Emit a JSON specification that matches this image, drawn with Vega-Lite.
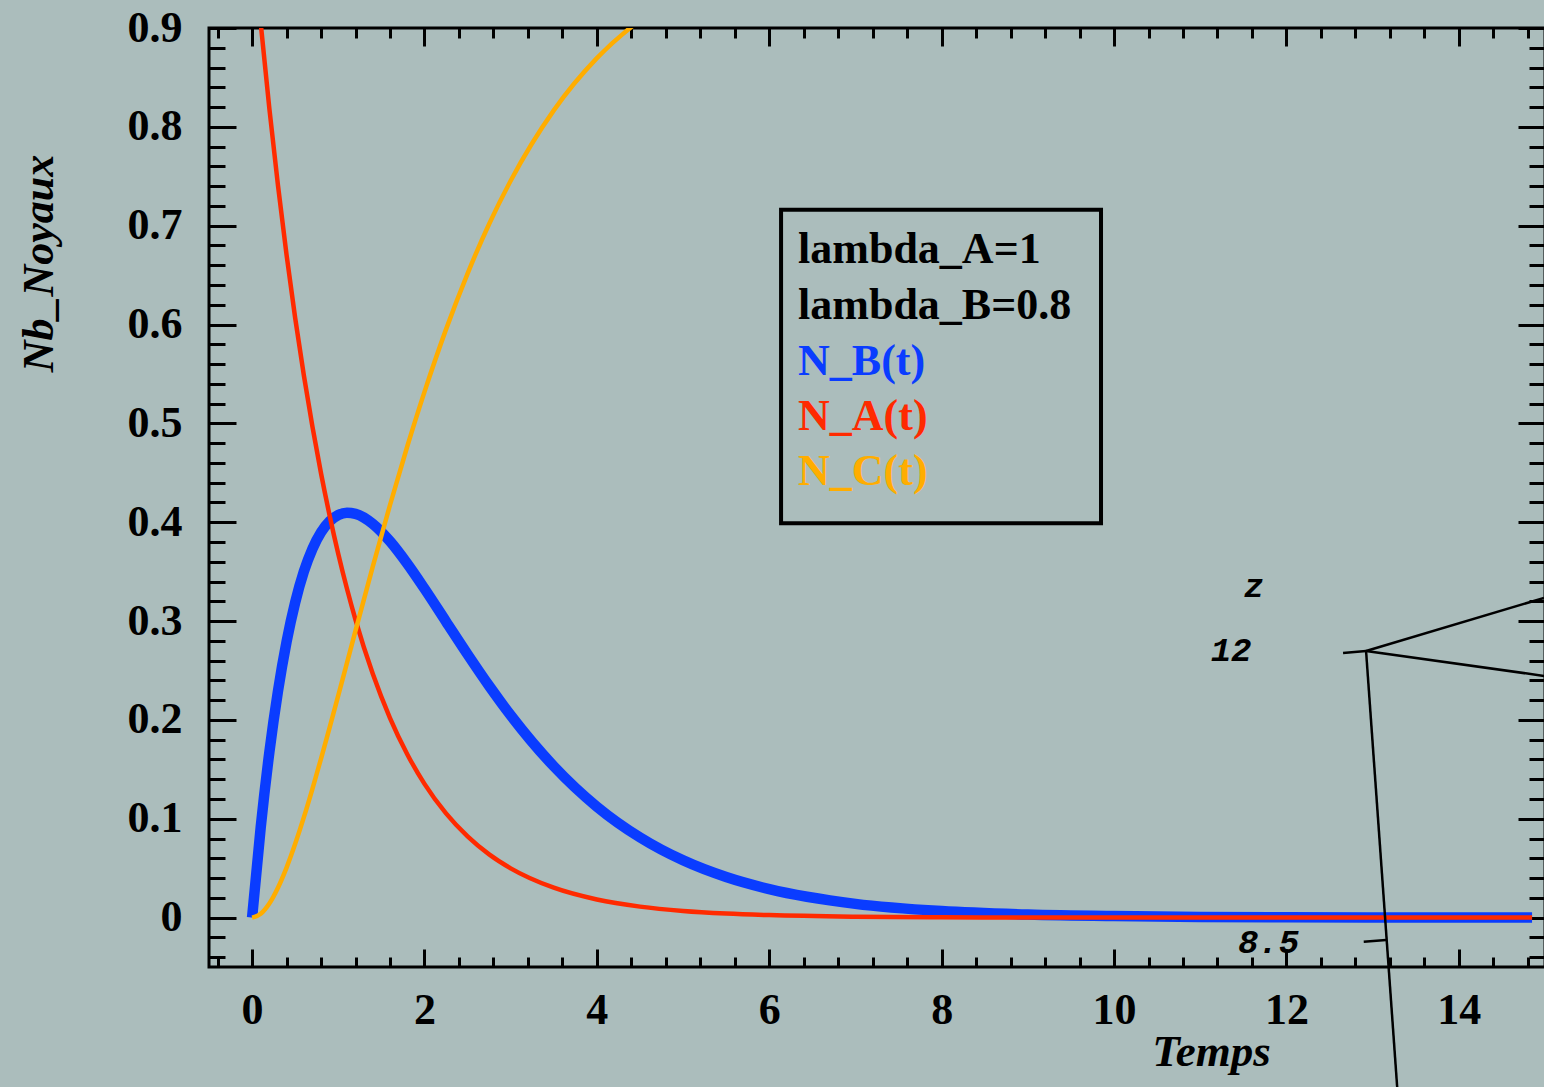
{
  "$schema": "https://vega.github.io/schema/vega-lite/v6.json",
  "width": 1336,
  "height": 939,
  "autosize": {"type": "none"},
  "padding": {"left": 209, "top": 28, "right": 10, "bottom": 120},
  "background": "#abbdbc",
  "config": {
    "view": {"stroke": "black", "strokeWidth": 3, "fill": null},
    "axis": {"grid": false, "domain": false, "tickColor": "black", "tickWidth": 3, "labelColor": "black", "titleColor": "black", "labelFont": "Liberation Serif", "titleFont": "Liberation Serif"}
  },
  "datasets": {
    "curves": [
      {"series": "B", "t": 0, "n": 0}, {"series": "B", "t": 0.1, "n": 0.0914}, {"series": "B", "t": 0.2, "n": 0.1671}, {"series": "B", "t": 0.3, "n": 0.229}, {"series": "B", "t": 0.4, "n": 0.2791}, {"series": "B", "t": 0.5, "n": 0.3189}, {"series": "B", "t": 0.6, "n": 0.3499}, {"series": "B", "t": 0.7, "n": 0.3731}, {"series": "B", "t": 0.8, "n": 0.3898}, {"series": "B", "t": 0.9, "n": 0.4009}, {"series": "B", "t": 1.0, "n": 0.4073}, {"series": "B", "t": 1.1, "n": 0.4096}, {"series": "B", "t": 1.2, "n": 0.4085}, {"series": "B", "t": 1.4, "n": 0.3984}, {"series": "B", "t": 1.6, "n": 0.3807}, {"series": "B", "t": 1.8, "n": 0.3581}, {"series": "B", "t": 2.0, "n": 0.3328}, {"series": "B", "t": 2.25, "n": 0.2995}, {"series": "B", "t": 2.5, "n": 0.2663}, {"series": "B", "t": 2.75, "n": 0.2344}, {"series": "B", "t": 3.0, "n": 0.2047}, {"series": "B", "t": 3.5, "n": 0.1531}, {"series": "B", "t": 4.0, "n": 0.1122}, {"series": "B", "t": 4.5, "n": 0.0811}, {"series": "B", "t": 5.0, "n": 0.0579}, {"series": "B", "t": 5.5, "n": 0.041}, {"series": "B", "t": 6.0, "n": 0.0288}, {"series": "B", "t": 7.0, "n": 0.0139}, {"series": "B", "t": 8.0, "n": 0.0066}, {"series": "B", "t": 9.0, "n": 0.0031}, {"series": "B", "t": 10.0, "n": 0.0015}, {"series": "B", "t": 11.0, "n": 0.0007}, {"series": "B", "t": 12.0, "n": 0.0003}, {"series": "B", "t": 13.0, "n": 0.0001}, {"series": "B", "t": 14.0, "n": 0.0001}, {"series": "B", "t": 14.85, "n": 0},
      {"series": "A", "t": 0, "n": 1}, {"series": "A", "t": 0.1, "n": 0.9048}, {"series": "A", "t": 0.2, "n": 0.8187}, {"series": "A", "t": 0.3, "n": 0.7408}, {"series": "A", "t": 0.4, "n": 0.6703}, {"series": "A", "t": 0.5, "n": 0.6065}, {"series": "A", "t": 0.6, "n": 0.5488}, {"series": "A", "t": 0.7, "n": 0.4966}, {"series": "A", "t": 0.8, "n": 0.4493}, {"series": "A", "t": 0.9, "n": 0.4066}, {"series": "A", "t": 1.0, "n": 0.3679}, {"series": "A", "t": 1.1, "n": 0.3329}, {"series": "A", "t": 1.2, "n": 0.3012}, {"series": "A", "t": 1.4, "n": 0.2466}, {"series": "A", "t": 1.6, "n": 0.2019}, {"series": "A", "t": 1.8, "n": 0.1653}, {"series": "A", "t": 2.0, "n": 0.1353}, {"series": "A", "t": 2.25, "n": 0.1054}, {"series": "A", "t": 2.5, "n": 0.0821}, {"series": "A", "t": 2.75, "n": 0.0639}, {"series": "A", "t": 3.0, "n": 0.0498}, {"series": "A", "t": 3.5, "n": 0.0302}, {"series": "A", "t": 4.0, "n": 0.0183}, {"series": "A", "t": 4.5, "n": 0.0111}, {"series": "A", "t": 5.0, "n": 0.0067}, {"series": "A", "t": 5.5, "n": 0.0041}, {"series": "A", "t": 6.0, "n": 0.0025}, {"series": "A", "t": 7.0, "n": 0.0009}, {"series": "A", "t": 8.0, "n": 0.0003}, {"series": "A", "t": 9.0, "n": 0.0001}, {"series": "A", "t": 10.0, "n": 0}, {"series": "A", "t": 12.0, "n": 0}, {"series": "A", "t": 14.85, "n": 0},
      {"series": "C", "t": 0, "n": 0}, {"series": "C", "t": 0.1, "n": 0.0038}, {"series": "C", "t": 0.2, "n": 0.0142}, {"series": "C", "t": 0.3, "n": 0.0302}, {"series": "C", "t": 0.4, "n": 0.0506}, {"series": "C", "t": 0.5, "n": 0.0746}, {"series": "C", "t": 0.6, "n": 0.1013}, {"series": "C", "t": 0.7, "n": 0.1303}, {"series": "C", "t": 0.8, "n": 0.1609}, {"series": "C", "t": 0.9, "n": 0.1925}, {"series": "C", "t": 1.0, "n": 0.2248}, {"series": "C", "t": 1.1, "n": 0.2575}, {"series": "C", "t": 1.2, "n": 0.2903}, {"series": "C", "t": 1.4, "n": 0.355}, {"series": "C", "t": 1.6, "n": 0.4174}, {"series": "C", "t": 1.8, "n": 0.4766}, {"series": "C", "t": 2.0, "n": 0.5319}, {"series": "C", "t": 2.25, "n": 0.5951}, {"series": "C", "t": 2.5, "n": 0.6516}, {"series": "C", "t": 2.75, "n": 0.7017}, {"series": "C", "t": 3.0, "n": 0.7455}, {"series": "C", "t": 3.5, "n": 0.8167}, {"series": "C", "t": 4.0, "n": 0.8695}, {"series": "C", "t": 4.5, "n": 0.9078}, {"series": "C", "t": 5.0, "n": 0.9353}
    ],
    "segs": [
      {"x1": 12.657, "y1": 0.2677, "x2": 12.924, "y2": 0.2697},
      {"x1": 12.924, "y1": 0.2697, "x2": 14.989, "y2": 0.3234},
      {"x1": 12.924, "y1": 0.2697, "x2": 14.989, "y2": 0.2445},
      {"x1": 12.924, "y1": 0.2697, "x2": 13.285, "y2": -0.1714},
      {"x1": 12.897, "y1": -0.0244, "x2": 13.156, "y2": -0.0227}
    ],
    "legend": [
      {"label": "lambda_A=1", "t": 6.334, "n": 0.6623},
      {"label": "lambda_B=0.8", "t": 6.334, "n": 0.6056},
      {"label": "N_B(t)", "t": 6.334, "n": 0.5489},
      {"label": "N_A(t)", "t": 6.334, "n": 0.4933},
      {"label": "N_C(t)", "t": 6.334, "n": 0.4376}
    ],
    "notes": [
      {"label": "z", "t": 11.624, "n": 0.3244},
      {"label": "12", "t": 11.358, "n": 0.2596},
      {"label": "8.5", "t": 11.793, "n": -0.0358}
    ]
  },
  "resolve": {"scale": {"x": "shared", "y": "shared"}, "axis": {"x": "independent", "y": "independent"}},
  "layer": [
    {
      "data": {"name": "curves"},
      "transform": [{"filter": "datum.series === 'B'"}],
      "mark": {"type": "line", "color": "#0a3cff", "strokeWidth": 10.5, "clip": true, "interpolate": "monotone"},
      "encoding": {
        "x": {"field": "t", "type": "quantitative", "scale": {"domain": [-0.5, 15], "nice": false, "zero": false},
          "axis": {"orient": "bottom", "values": [0, 2, 4, 6, 8, 10, 12, 14], "tickSize": -18, "labelPadding": 39, "labelFontSize": 44, "labelFontWeight": "bold", "labelFlush": false, "labelOverlap": false,
            "title": "Temps", "titleFontSize": 45, "titleFontWeight": "bold", "titleFontStyle": "italic", "titleX": 1002, "titleY": 98, "titleAlign": "center", "titleBaseline": "alphabetic"}},
        "y": {"field": "n", "type": "quantitative", "scale": {"domain": [-0.05, 0.9], "nice": false, "zero": false},
          "axis": {"orient": "left", "values": [0, 0.1, 0.2, 0.3, 0.4, 0.5, 0.6, 0.7, 0.8, 0.9], "tickSize": -27, "labelPadding": 54, "labelFontSize": 44, "labelFontWeight": "bold", "labelFlush": false, "labelOverlap": false,
            "labelExpr": "datum.value === 0 ? '0' : format(datum.value, '.1f')",
            "title": "Nb_Noyaux", "titleFontSize": 44, "titleFontWeight": "bold", "titleFontStyle": "italic", "titleX": -157, "titleY": 235, "titleAlign": "center", "titleBaseline": "alphabetic", "titleAngle": -90}}
      }
    },
    {
      "data": {"name": "curves"},
      "transform": [{"filter": "datum.series === 'A'"}],
      "mark": {"type": "line", "color": "#ff2a00", "strokeWidth": 4.5, "clip": true, "interpolate": "monotone"},
      "encoding": {
        "x": {"field": "t", "type": "quantitative", "scale": {"domain": [-0.5, 15], "nice": false, "zero": false},
          "axis": {"orient": "bottom", "values": [-0.4, 0.4, 0.8, 1.2, 1.6, 2.4, 2.8, 3.2, 3.6, 4.4, 4.8, 5.2, 5.6, 6.4, 6.8, 7.2, 7.6, 8.4, 8.8, 9.2, 9.6, 10.4, 10.8, 11.2, 11.6, 12.4, 12.8, 13.2, 13.6, 14.4, 14.8], "tickSize": -10, "labels": false, "title": null}},
        "y": {"field": "n", "type": "quantitative", "scale": {"domain": [-0.05, 0.9], "nice": false, "zero": false},
          "axis": {"orient": "left", "values": [-0.04, -0.02, 0.02, 0.04, 0.06, 0.08, 0.12, 0.14, 0.16, 0.18, 0.22, 0.24, 0.26, 0.28, 0.32, 0.34, 0.36, 0.38, 0.42, 0.44, 0.46, 0.48, 0.52, 0.54, 0.56, 0.58, 0.62, 0.64, 0.66, 0.68, 0.72, 0.74, 0.76, 0.78, 0.82, 0.84, 0.86, 0.88], "tickSize": -16, "labels": false, "title": null}}
      }
    },
    {
      "data": {"name": "curves"},
      "transform": [{"filter": "datum.series === 'C'"}],
      "mark": {"type": "line", "color": "#ffad00", "strokeWidth": 4.5, "clip": true, "interpolate": "monotone"},
      "encoding": {
        "x": {"field": "t", "type": "quantitative", "scale": {"domain": [-0.5, 15], "nice": false, "zero": false},
          "axis": {"orient": "top", "values": [0, 2, 4, 6, 8, 10, 12, 14], "tickSize": -18, "labels": false, "title": null}},
        "y": {"field": "n", "type": "quantitative", "scale": {"domain": [-0.05, 0.9], "nice": false, "zero": false},
          "axis": {"orient": "right", "values": [0, 0.1, 0.2, 0.3, 0.4, 0.5, 0.6, 0.7, 0.8, 0.9], "tickSize": -27, "labels": false, "title": null}}
      }
    },
    {
      "data": {"name": "segs"},
      "mark": {"type": "rule", "color": "black", "strokeWidth": 2.5, "clip": false},
      "encoding": {
        "x": {"field": "x1", "type": "quantitative", "scale": {"domain": [-0.5, 15], "nice": false, "zero": false},
          "axis": {"orient": "top", "values": [-0.4, 0.4, 0.8, 1.2, 1.6, 2.4, 2.8, 3.2, 3.6, 4.4, 4.8, 5.2, 5.6, 6.4, 6.8, 7.2, 7.6, 8.4, 8.8, 9.2, 9.6, 10.4, 10.8, 11.2, 11.6, 12.4, 12.8, 13.2, 13.6, 14.4, 14.8], "tickSize": -10, "labels": false, "title": null}},
        "x2": {"field": "x2"},
        "y": {"field": "y1", "type": "quantitative", "scale": {"domain": [-0.05, 0.9], "nice": false, "zero": false},
          "axis": {"orient": "right", "values": [-0.04, -0.02, 0.02, 0.04, 0.06, 0.08, 0.12, 0.14, 0.16, 0.18, 0.22, 0.24, 0.26, 0.28, 0.32, 0.34, 0.36, 0.38, 0.42, 0.44, 0.46, 0.48, 0.52, 0.54, 0.56, 0.58, 0.62, 0.64, 0.66, 0.68, 0.72, 0.74, 0.76, 0.78, 0.82, 0.84, 0.86, 0.88], "tickSize": -16, "labels": false, "title": null}},
        "y2": {"field": "y2"}
      }
    },
    {
      "data": {"values": [{}]},
      "mark": {"type": "rect", "fill": null, "stroke": "black", "strokeWidth": 4},
      "encoding": {
        "x": {"datum": 6.137, "type": "quantitative", "scale": {"domain": [-0.5, 15], "nice": false, "zero": false}, "axis": null},
        "x2": {"datum": 9.849},
        "y": {"datum": 0.716, "type": "quantitative", "scale": {"domain": [-0.05, 0.9], "nice": false, "zero": false}, "axis": null},
        "y2": {"datum": 0.399}
      }
    },
    {
      "data": {"name": "legend"},
      "mark": {"type": "text", "align": "left", "baseline": "alphabetic", "font": "Liberation Serif", "fontWeight": "bold", "fontSize": 44},
      "encoding": {
        "x": {"field": "t", "type": "quantitative", "scale": {"domain": [-0.5, 15], "nice": false, "zero": false}, "axis": null},
        "y": {"field": "n", "type": "quantitative", "scale": {"domain": [-0.05, 0.9], "nice": false, "zero": false}, "axis": null},
        "text": {"field": "label"},
        "color": {"field": "label", "type": "nominal", "scale": {"domain": ["lambda_A=1", "lambda_B=0.8", "N_B(t)", "N_A(t)", "N_C(t)"], "range": ["#000000", "#000000", "#0a3cff", "#ff2a00", "#ffad00"]}, "legend": null}
      }
    },
    {
      "data": {"name": "notes"},
      "mark": {"type": "text", "align": "center", "baseline": "alphabetic", "font": "Liberation Mono", "fontWeight": "bold", "fontStyle": "italic", "fontSize": 34, "color": "black", "clip": false},
      "encoding": {
        "x": {"field": "t", "type": "quantitative", "scale": {"domain": [-0.5, 15], "nice": false, "zero": false}, "axis": null},
        "y": {"field": "n", "type": "quantitative", "scale": {"domain": [-0.05, 0.9], "nice": false, "zero": false}, "axis": null},
        "text": {"field": "label"}
      }
    }
  ]
}
